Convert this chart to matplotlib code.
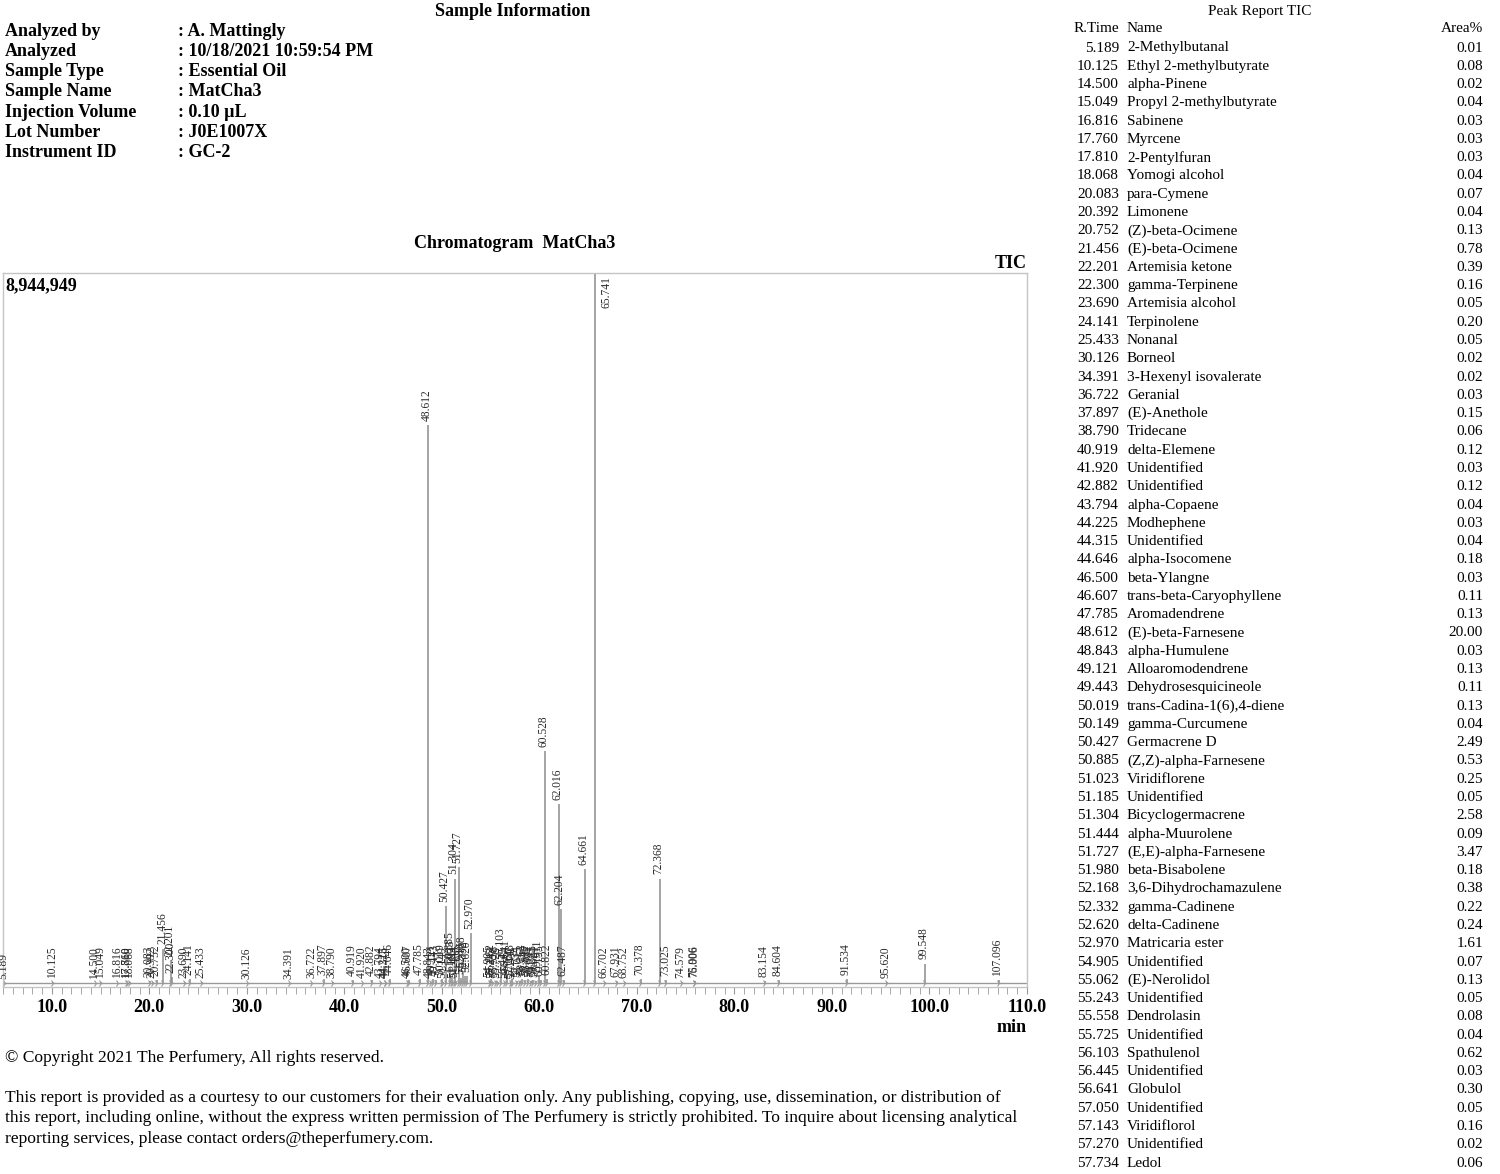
import numpy as np
import matplotlib.pyplot as plt

plt.rcParams['font.family'] = ['Liberation Serif', 'DejaVu Serif']

W, H = 1500, 1174

# sample information block
info_keys = ['Analyzed by', 'Analyzed', 'Sample Type', 'Sample Name',
             'Injection Volume', 'Lot Number', 'Instrument ID']
info_vals = [': A. Mattingly', ': 10/18/2021 10:59:54 PM', ': Essential Oil',
             ': MatCha3', ': 0.10 µL', ': J0E1007X', ': GC-2']

# peak report table
rt = [5.189, 10.125, 14.500, 15.049, 16.816, 17.760, 17.810, 18.068, 20.083, 20.392,
      20.752, 21.456, 22.201, 22.300, 23.690, 24.141, 25.433, 30.126, 34.391, 36.722,
      37.897, 38.790, 40.919, 41.920, 42.882, 43.794, 44.225, 44.315, 44.646, 46.500,
      46.607, 47.785, 48.612, 48.843, 49.121, 49.443, 50.019, 50.149, 50.427, 50.885,
      51.023, 51.185, 51.304, 51.444, 51.727, 51.980, 52.168, 52.332, 52.620, 52.970,
      54.905, 55.062, 55.243, 55.558, 55.725, 56.103, 56.445, 56.641, 57.050, 57.143,
      57.270, 57.734]
names = ['2-Methylbutanal', 'Ethyl 2-methylbutyrate', 'alpha-Pinene', 'Propyl 2-methylbutyrate',
         'Sabinene', 'Myrcene', '2-Pentylfuran', 'Yomogi alcohol', 'para-Cymene', 'Limonene',
         '(Z)-beta-Ocimene', '(E)-beta-Ocimene', 'Artemisia ketone', 'gamma-Terpinene',
         'Artemisia alcohol', 'Terpinolene', 'Nonanal', 'Borneol', '3-Hexenyl isovalerate',
         'Geranial', '(E)-Anethole', 'Tridecane', 'delta-Elemene', 'Unidentified',
         'Unidentified', 'alpha-Copaene', 'Modhephene', 'Unidentified', 'alpha-Isocomene',
         'beta-Ylangne', 'trans-beta-Caryophyllene', 'Aromadendrene', '(E)-beta-Farnesene',
         'alpha-Humulene', 'Alloaromodendrene', 'Dehydrosesquicineole',
         'trans-Cadina-1(6),4-diene', 'gamma-Curcumene', 'Germacrene D',
         '(Z,Z)-alpha-Farnesene', 'Viridiflorene', 'Unidentified', 'Bicyclogermacrene',
         'alpha-Muurolene', '(E,E)-alpha-Farnesene', 'beta-Bisabolene',
         '3,6-Dihydrochamazulene', 'gamma-Cadinene', 'delta-Cadinene', 'Matricaria ester',
         'Unidentified', '(E)-Nerolidol', 'Unidentified', 'Dendrolasin', 'Unidentified',
         'Spathulenol', 'Unidentified', 'Globulol', 'Unidentified', 'Viridiflorol',
         'Unidentified', 'Ledol']
area = [0.01, 0.08, 0.02, 0.04, 0.03, 0.03, 0.03, 0.04, 0.07, 0.04,
        0.13, 0.78, 0.39, 0.16, 0.05, 0.20, 0.05, 0.02, 0.02, 0.03,
        0.15, 0.06, 0.12, 0.03, 0.12, 0.04, 0.03, 0.04, 0.18, 0.03,
        0.11, 0.13, 20.00, 0.03, 0.13, 0.11, 0.13, 0.04, 2.49, 0.53,
        0.25, 0.05, 2.58, 0.09, 3.47, 0.18, 0.38, 0.22, 0.24, 1.61,
        0.07, 0.13, 0.05, 0.08, 0.04, 0.62, 0.03, 0.30, 0.05, 0.16,
        0.02, 0.06]

# chromatogram peaks (retention time, height in counts)
peak_rt = rt + [58.015, 58.262, 58.540, 58.807, 59.094, 59.385, 59.624, 59.911, 60.195,
                60.528, 60.822, 62.016, 62.204, 62.487, 64.661, 65.741, 66.702, 67.931,
                68.752, 70.378, 72.368, 73.025, 74.579, 75.906, 76.006, 83.154, 84.604,
                91.534, 95.620, 99.548, 107.096]
peak_h = [5000, 20000, 8000, 12000, 10000, 10000, 10000, 12000, 25000, 15000,
          45000, 440000, 290000, 80000, 20000, 60000, 20000, 8000, 8000, 10000,
          50000, 20000, 45000, 10000, 45000, 12000, 10000, 12000, 60000, 10000,
          40000, 50000, 7030000, 15000, 50000, 45000, 50000, 15000, 970000, 200000,
          100000, 20000, 1320000, 35000, 1470000, 70000, 150000, 90000, 90000, 630000,
          25000, 50000, 20000, 30000, 15000, 250000, 12000, 110000, 20000, 60000,
          8000, 25000] + \
         [30000, 50000, 40000, 60000, 30000, 45000, 35000, 100000, 40000,
          2930000, 60000, 2260000, 940000, 40000, 1440000, 8944949, 20000, 25000,
          20000, 50000, 1320000, 40000, 20000, 30000, 30000, 30000, 40000,
          50000, 20000, 250000, 40000]
y_max = 8944949


def fx(x):
    return x / W


def fy(y):
    return 1 - y / H


fig = plt.figure(figsize=(15, 11.74), dpi=100)

# header text
fig.text(fx(513), fy(11), 'Sample Information', ha='center', va='center',
         fontsize=13, fontweight='bold')
for i, (k, v) in enumerate(zip(info_keys, info_vals)):
    yy = 31 + i * 20.3
    fig.text(fx(5), fy(yy), k, ha='left', va='center', fontsize=13, fontweight='bold')
    fig.text(fx(178), fy(yy), v, ha='left', va='center', fontsize=13, fontweight='bold')

fig.text(fx(515), fy(244), 'Chromatogram  MatCha3', ha='center', va='center',
         fontsize=13, fontweight='bold')
fig.text(fx(1027), fy(264), 'TIC', ha='right', va='center', fontsize=13, fontweight='bold')

# chromatogram
ax = fig.add_axes([fx(3), fy(987), 1024 / W, 714 / H])
ax.hlines(0, 5, 110, color='#999999', lw=1)
ax.vlines(peak_rt, 0, peak_h, color='#8c8c8c', lw=1.1)
ax.plot(peak_rt, np.zeros(len(peak_rt)), ls='none', marker='4', ms=5,
        color='#999999', mew=0.8)
for r, h in zip(peak_rt, peak_h):
    if h >= y_max:
        # off-scale peak: label sits inside the frame, right of the line
        ax.annotate(f'{r:.3f}', xy=(r, h), xytext=(8, -2), textcoords='offset points',
                    rotation=90, ha='center', va='top', fontsize=8.3, color='#2a2a2a')
    else:
        ax.annotate(f'{r:.3f}', xy=(r, h), xytext=(-1, 3), textcoords='offset points',
                    rotation=90, ha='center', va='bottom', fontsize=8.3, color='#2a2a2a')
ax.set_xlim(5, 110)
ax.set_ylim(-0.005 * y_max, y_max)
ax.set_xticks(np.arange(10, 111, 10))
ax.set_xticklabels([f'{t:.1f}' for t in np.arange(10, 111, 10)],
                   fontsize=13, fontweight='bold')
ax.set_xticks(np.arange(5, 111, 1), minor=True)
ax.tick_params(axis='x', which='both', direction='out', length=5, color='#999999', pad=3.5)
ax.set_yticks([])
for s in ax.spines.values():
    s.set_color('#c4c4c4')
    s.set_linewidth(1)
fig.text(fx(5), fy(286), '8,944,949', ha='left', va='center',
         fontsize=13, fontweight='bold')
fig.text(fx(1012), fy(1027), 'min', ha='center', va='center', fontsize=13, fontweight='bold')

# footer text
fig.text(fx(5), fy(1058), '© Copyright 2021 The Perfumery, All rights reserved.',
         ha='left', va='center', fontsize=12.6)
disclaimer = ['This report is provided as a courtesy to our customers for their evaluation only. '
              'Any publishing, copying, use, dissemination, or distribution of',
              'this report, including online, without the express written permission of '
              'The Perfumery is strictly prohibited. To inquire about licensing analytical',
              'reporting services, please contact orders@theperfumery.com.']
for i, line in enumerate(disclaimer):
    fig.text(fx(5), fy(1098 + i * 20.5), line, ha='left', va='center', fontsize=12.6)

# peak report table
fig.text(fx(1260), fy(11), 'Peak Report TIC', ha='center', va='center', fontsize=11)
fig.text(fx(1119), fy(29), 'R.Time', ha='right', va='center', fontsize=11)
fig.text(fx(1127), fy(29), 'Name', ha='left', va='center', fontsize=11)
fig.text(fx(1483), fy(29), 'Area%', ha='right', va='center', fontsize=11)
for i, (r, n, a) in enumerate(zip(rt, names, area)):
    yy = 48 + i * 18.28
    fig.text(fx(1119), fy(yy), f'{r:.3f}', ha='right', va='center', fontsize=11)
    fig.text(fx(1127), fy(yy), n, ha='left', va='center', fontsize=11)
    fig.text(fx(1483), fy(yy), f'{a:.2f}', ha='right', va='center', fontsize=11)

fig.savefig('out.png', dpi=100)
